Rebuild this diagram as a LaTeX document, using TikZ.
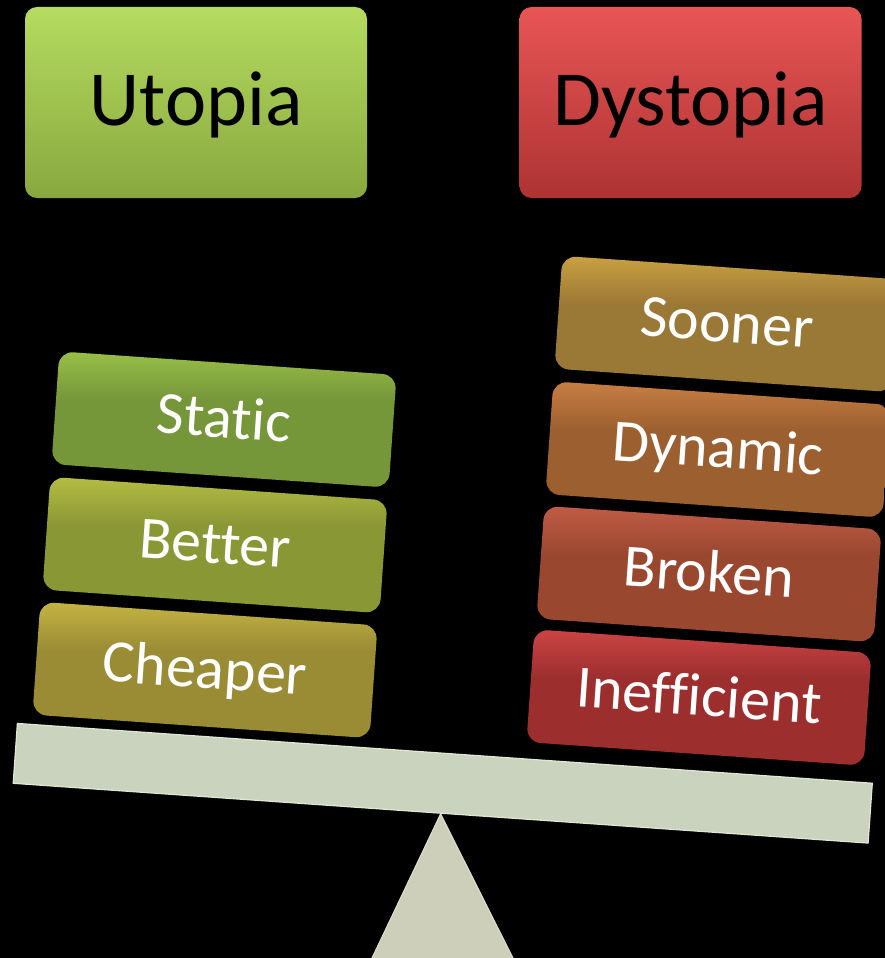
\documentclass[tikz,border=0pt]{standalone}
\usepackage{fontspec}
\setmainfont{Carlito}[Ligatures={NoCommon}]
\definecolor{utopT}{HTML}{B5DB5F}
\definecolor{utopM}{HTML}{A3C94E}
\definecolor{utopB}{HTML}{88A83F}
\definecolor{dystT}{HTML}{E85555}
\definecolor{dystM}{HTML}{D54444}
\definecolor{dystB}{HTML}{AE3333}
\definecolor{staticT}{HTML}{98BF47}
\definecolor{staticB}{HTML}{76963A}
\definecolor{betterT}{HTML}{B4BC42}
\definecolor{betterB}{HTML}{8A9735}
\definecolor{cheapT}{HTML}{C4B442}
\definecolor{cheapB}{HTML}{9A8B35}
\definecolor{soonT}{HTML}{CAA042}
\definecolor{soonB}{HTML}{9A7835}
\definecolor{dynT}{HTML}{C87E42}
\definecolor{dynB}{HTML}{9C5F30}
\definecolor{brokenT}{HTML}{C05C45}
\definecolor{brokenB}{HTML}{9A4730}
\definecolor{ineffT}{HTML}{CC4444}
\definecolor{ineffB}{HTML}{9C2E2E}
\definecolor{beamFill}{HTML}{C9D3BD}
\definecolor{beamLine}{HTML}{DFE8D2}
\definecolor{fulcFill}{HTML}{CECFBA}
\definecolor{fulcLine}{HTML}{DFE0CC}
\colorlet{btop}{white}
\colorlet{bbase}{black}
\pgfdeclareverticalshading[btop,bbase]{boxshade}{100bp}{color(0bp)=(bbase); color(25bp)=(bbase); color(57bp)=(bbase); color(75bp)=(btop); color(100bp)=(btop)}
\tikzset{
  topbox/.style={rounded corners=12pt, minimum width=342pt, minimum height=191pt,
    inner sep=0pt, text=black, font=\fontsize{78}{94}\selectfont,
    text height=55pt, text depth=10pt},
  smallbox/.style 2 args={/utils/exec={\colorlet{btop}{#1}\colorlet{bbase}{#2}},
    shading=boxshade, rounded corners=14pt, minimum width=338pt, minimum height=113pt,
    inner sep=0pt, rotate=-4, text=white, font=\fontsize{60}{72}\selectfont,
    text height=46pt, text depth=10pt},
  beamstyle/.style={fill=beamFill, draw=beamLine, line width=1.2pt, rotate=-4,
    minimum width=857pt, minimum height=60pt, inner sep=0pt},
  fulcrum/.style={fill=fulcFill, draw=fulcLine, line width=1pt, line join=miter}
}
\begin{document}
\begin{tikzpicture}[x=1pt,y=-1pt]
\useasboundingbox (0,0) rectangle (885,958);
\fill[black] (0,0) rectangle (885,958);
% title boxes
\node[topbox, top color=utopT, middle color=utopM, bottom color=utopB] (utopia) at (196,102.5) {Utopia};
\node[topbox, top color=dystT, middle color=dystM, bottom color=dystB] (dystopia) at (690.5,102.5) {Dystopia};
% beam and fulcrum
\node[beamstyle] (beam) at (442.75,783.25) {};
\coordinate (apex) at (beam.south);
\coordinate (baseL) at (371,960);
\coordinate (baseR) at (514,960);
\draw[fulcrum] (apex) -- (baseL) -- (baseR) -- cycle;
% left stack
\node[smallbox={cheapT}{cheapB}] (cheaper) at (205,670) {Cheaper};
\node[smallbox={betterT}{betterB}] (better) at (215,545) {Better};
\node[smallbox={staticT}{staticB}] (static) at (224,419.5) {Static};
% right stack
\node[smallbox={ineffT}{ineffB}] (inefficient) at (699,697.5) {Inefficient};
\node[smallbox={brokenT}{brokenB}] (broken) at (709,574) {Broken};
\node[smallbox={dynT}{dynB}] (dynamic) at (718,449.5) {Dynamic};
\node[smallbox={soonT}{soonB}] (sooner) at (727,324) {Sooner};
\end{tikzpicture}
\end{document}
